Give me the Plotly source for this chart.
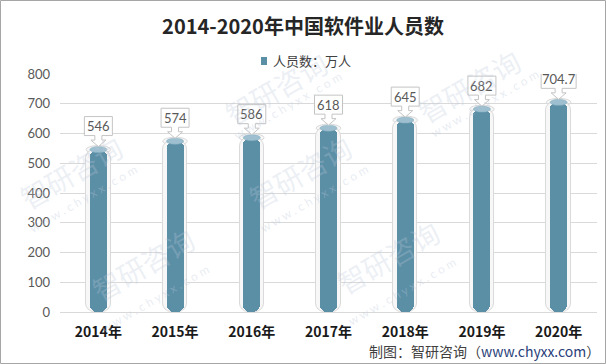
import plotly.graph_objects as go

# ---- data ----
years = ["2014年", "2015年", "2016年", "2017年", "2018年", "2019年", "2020年"]
staff = [546, 574, 586, 618, 645, 682, 704.7]
labels = ["546", "574", "586", "618", "645", "682", "704.7"]
series_name = "人员数：万人"
title_text = "2014-2020年中国软件业人员数"
y_ticks = [0, 100, 200, 300, 400, 500, 600, 700, 800]

# ---- layout constants ----
W, H = 606, 364
ML, MR, MT, MB = 60, 9, 74, 52
PW, PH = W - ML - MR, H - MT - MB
CJK = "Noto Sans CJK SC"
NUM = "Lato, Noto Sans CJK SC"
BAR = "#5b8fa6"
CAP = "#9dbfcf"


def px_x(px):
    return (px - ML) / PW


def px_y(py):
    return (H - MB - py) / PH


idx = list(range(len(years)))

fig = go.Figure()
# outer glass shell (drawn downward from the value so the rounded end sits at 0)
fig.add_trace(go.Bar(
    x=idx, y=[-v for v in staff], base=staff, width=0.32,
    marker=dict(color="#f7f7f7", line=dict(color="#dadada", width=1), cornerradius=9),
    showlegend=False, hoverinfo="skip"))
# inner coloured column
fig.add_trace(go.Bar(
    x=idx, y=[-v for v in staff], base=staff, width=0.22,
    marker=dict(color=BAR, line=dict(width=0), cornerradius=7),
    showlegend=False, hoverinfo="skip"))

shapes = []
annotations = []
for i, v, lab in zip(idx, staff, labels):
    # shell top ellipse (below traces)
    shapes.append(dict(type="circle", xref="x", yref="y", xsizemode="pixel", ysizemode="pixel",
                       xanchor=i, yanchor=v, x0=-12.3, x1=12.3, y0=-4, y1=4, layer="below",
                       fillcolor="#f7f7f7", line=dict(color="#dadada", width=1)))
    # column cap
    shapes.append(dict(type="circle", xref="x", yref="y", xsizemode="pixel", ysizemode="pixel",
                       xanchor=i, yanchor=v, x0=-8.6, x1=8.6, y0=-3, y1=3, layer="above",
                       fillcolor=CAP, line=dict(color="#86aec0", width=0.5)))
    # callout box with arrow
    w = 3.5 * len(lab) + 17.5
    path = (f"M {-w/2},33 L {w/2},33 L {w/2},14 L 3.5,14 L 3.5,9.5 L 7.5,9.5 L 0,3 "
            f"L -7.5,9.5 L -3.5,9.5 L -3.5,14 L {-w/2},14 Z")
    shapes.append(dict(type="path", xref="x", yref="y", xsizemode="pixel", ysizemode="pixel",
                       xanchor=i, yanchor=v, path=path, layer="above",
                       fillcolor="white", line=dict(color="#c4c4c4", width=1)))
    annotations.append(dict(x=i, y=v, xref="x", yref="y", text=lab, showarrow=False,
                            yshift=23.5, font=dict(family=NUM, size=13, color="#595959")))

# watermarks
wm = [(215, 40), (530, 38), (10, 172), (300, 172), (82, 312), (388, 305)]
for cx, cy in wm:
    annotations.append(dict(x=px_x(cx), y=px_y(cy), xref="paper", yref="paper", text="智研咨询",
                            showarrow=False, textangle=-30,
                            font=dict(family=CJK, size=28, color="rgba(190,200,218,0.28)")))
    annotations.append(dict(x=px_x(cx + 14), y=px_y(cy + 26), xref="paper", yref="paper",
                            text="w w w . c h y x x . c o m", showarrow=False, textangle=-30,
                            font=dict(family=NUM, size=12, color="rgba(190,200,218,0.35)")))

# legend (square + text)
shapes.append(dict(type="rect", xref="paper", yref="paper", x0=px_x(261), x1=px_x(267),
                   y0=px_y(65), y1=px_y(57), fillcolor=BAR, line=dict(width=0), layer="above"))
annotations.append(dict(x=px_x(271), y=px_y(61), xref="paper", yref="paper", xanchor="left",
                        yanchor="middle", text=series_name, showarrow=False,
                        font=dict(family=CJK, size=13, color="#404040")))

# footer
annotations.append(dict(x=px_x(602), y=px_y(351), xref="paper", yref="paper", xanchor="right",
                        yanchor="middle", showarrow=False,
                        text="制图：智研咨询（<span style='color:#2a3f7a'>www.chyxx.com</span>）",
                        font=dict(family=CJK, size=14, color="#404040")))

# outer border
shapes.append(dict(type="rect", xref="paper", yref="paper", x0=px_x(0.5), x1=px_x(W - 0.5),
                   y0=px_y(H - 0.5), y1=px_y(0.5), line=dict(color="#a6a6a6", width=1),
                   fillcolor="rgba(0,0,0,0)", layer="above"))

fig.update_layout(
    width=W, height=H, margin=dict(l=ML, r=MR, t=MT, b=MB),
    paper_bgcolor="white", plot_bgcolor="white",
    barmode="overlay", bargap=0, showlegend=False,
    title=dict(text=f"<b>{title_text}</b>", x=0.5, xanchor="center", y=1 - 27 / H, yanchor="middle",
               yref="container", font=dict(family=CJK, size=20, color="#262626")),
    xaxis=dict(tickmode="array", tickvals=idx, ticktext=[f"<b>{t}</b>" for t in years],
               range=[-0.5, len(years) - 0.5], showgrid=False, zeroline=False,
               showline=False, ticks="", ticklabelstandoff=10,
               tickfont=dict(family=CJK, size=14, color="#1a1a1a")),
    yaxis=dict(range=[0, 800], tickvals=y_ticks, showgrid=True, gridcolor="#d9d9d9",
               gridwidth=1, zeroline=True, zerolinecolor="#d9d9d9", zerolinewidth=1,
               ticks="", ticklabelstandoff=9,
               tickfont=dict(family=NUM, size=13, color="#595959")),
    shapes=shapes, annotations=annotations,
)

fig.write_html("out.html", config={"displayModeBar": False},
               post_script="document.body.style.margin='0';")
